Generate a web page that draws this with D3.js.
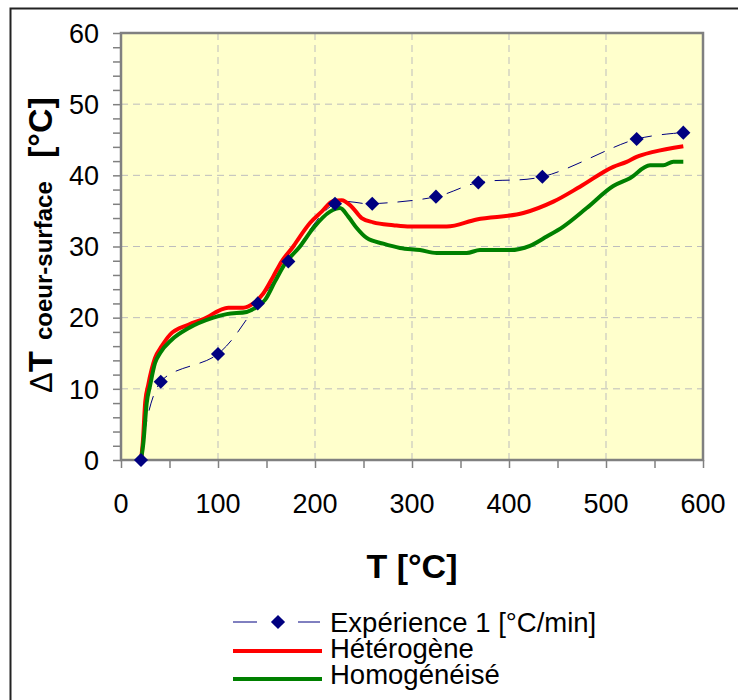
<!DOCTYPE html>
<html>
<head>
<meta charset="utf-8">
<script src="https://cdn.jsdelivr.net/npm/d3@7"></script>
<style>
  body { margin: 0; background: #fff; }
  svg { display: block; font-family: "Liberation Sans", Arial, sans-serif; }
</style>
</head>
<body>
<svg id="chart" width="738" height="700"></svg>
<script>
// experiment points (T, deltaT)
const expT = [20.6, 41, 100, 141, 172.5, 220.6, 259, 324.7, 368.4, 434.4, 531.6, 579.7];
const expDT = [0, 11, 14.9, 22.0, 27.9, 36.0, 36.0, 37.0, 39.0, 39.8, 45.1, 46.0];

// Hétérogène
const hetT = [20.6, 22.5, 25, 28, 35, 42, 50.5, 69.4, 84.9, 110.6, 126, 136.4, 146.7, 157, 165.6, 177.6, 184.5,
              194.8, 206.9, 218.9, 227.5, 237.8, 248.1, 260, 280.7, 297.9, 335.8, 366.7, 414.8, 445.7, 473.2,
              507.5, 521.3, 531.6, 548.8, 579.7];
const hetDT = [0, 2.5, 8.2, 10.5, 14.3, 16.0, 17.6, 19.0, 19.8, 21.4, 21.4, 22.0, 23.4, 25.8, 27.9, 30.0, 31.4,
               33.3, 34.9, 36.4, 36.5, 35.6, 34.0, 33.4, 33.0, 32.8, 32.8, 33.8, 34.7, 36.3, 38.4,
               41.2, 41.9, 42.6, 43.3, 44.1];

// Homogénéisé
const homT = [20.6, 23, 26.5, 30, 35, 40.2, 52.3, 69.4, 95.2, 108.9, 129.6, 139.9, 148.5, 158.8, 169.1, 184.5,
              198.3, 215.5, 225.8, 234.3, 243, 253.3, 270.4, 287.6, 308.2, 325.5, 356.4, 370.1, 401, 421.6,
              438.9, 456, 480.1, 507.5, 524.7, 545.4, 559, 569.4, 579.7];
const homDT = [0, 2.3, 8.0, 10.5, 13.6, 15.0, 16.9, 18.5, 20.0, 20.5, 20.8, 21.5, 22.5, 25.1, 27.6, 30.0,
               32.6, 34.9, 35.4, 34.2, 32.6, 31.2, 30.4, 29.8, 29.5, 29.1, 29.1, 29.5, 29.5, 30.1,
               31.4, 32.8, 35.4, 38.5, 39.6, 41.4, 41.4, 41.9, 41.9];

const xTicks = [0, 100, 200, 300, 400, 500, 600];
const yTicks = [0, 10, 20, 30, 40, 50, 60];
const legendLabels = ["Expérience 1 [°C/min]", "Hétérogène", "Homogénéisé"];

const plot = {left: 121, right: 703, top: 33, bottom: 460};

const svg = d3.select("#chart");

// outer frame (only left and top edges visible)
svg.append("path").attr("d", "M10.5,700 L10.5,8.5 L738,8.5")
    .attr("fill", "none").attr("stroke", "#222").attr("stroke-width", 2);

const x = d3.scaleLinear().domain([0, 600]).range([plot.left, plot.right]);
const y = d3.scaleLinear().domain([0, 60]).range([plot.bottom, plot.top]);

// background
svg.append("rect").attr("x", plot.left).attr("y", plot.top)
    .attr("width", plot.right - plot.left).attr("height", plot.bottom - plot.top)
    .attr("fill", "#FFFFCC");

// grid
svg.append("g").selectAll("line").data(xTicks.slice(1, -1)).join("line")
    .attr("x1", d => x(d)).attr("x2", d => x(d)).attr("y1", plot.top).attr("y2", plot.bottom)
    .attr("stroke", "#BDBDBD").attr("stroke-width", 1).attr("stroke-dasharray", "7,5");
svg.append("g").selectAll("line").data(yTicks.slice(1, -1)).join("line")
    .attr("y1", d => y(d)).attr("y2", d => y(d)).attr("x1", plot.left).attr("x2", plot.right)
    .attr("stroke", "#BDBDBD").attr("stroke-width", 1).attr("stroke-dasharray", "7,5");

// axes
const xAxis = svg.append("g").attr("transform", `translate(0,${plot.bottom})`)
    .call(d3.axisBottom(x).ticks(12).tickSize(8).tickFormat(""));
const yAxis = svg.append("g").attr("transform", `translate(${plot.left},0)`)
    .call(d3.axisLeft(y).ticks(30).tickSize(8).tickFormat(""));
[xAxis, yAxis].forEach(g => {
    g.select(".domain").remove();
    g.selectAll(".tick line").attr("stroke", "#808080").attr("stroke-width", 1.5);
});

// plot border
svg.append("rect").attr("x", plot.left).attr("y", plot.top)
    .attr("width", plot.right - plot.left).attr("height", plot.bottom - plot.top)
    .attr("fill", "none").attr("stroke", "#808080").attr("stroke-width", 2.5);

// tick labels
svg.append("g").selectAll("text").data(xTicks).join("text")
    .attr("x", d => x(d)).attr("y", 513).attr("text-anchor", "middle")
    .attr("font-size", 27).attr("fill", "#000").text(d => d);
svg.append("g").selectAll("text").data(yTicks).join("text")
    .attr("x", 99).attr("y", d => y(d)).attr("dy", "0.36em").attr("text-anchor", "end")
    .attr("font-size", 27).attr("fill", "#000").text(d => d);

// axis titles
svg.append("text").attr("x", 412).attr("y", 578).attr("text-anchor", "middle")
    .attr("font-size", 34).attr("font-weight", "bold").text("T [°C]");

const yt = svg.append("text").attr("transform", "translate(52,393) rotate(-90)")
    .attr("fill", "#000");
yt.append("tspan").attr("x", 0).attr("font-size", 31).text("\u0394");
yt.append("tspan").attr("x", 21).attr("font-size", 34).attr("font-weight", "bold").text("T");
yt.append("tspan").attr("x", 53).attr("font-size", 24).attr("font-weight", "bold").text("coeur-surface");
yt.append("tspan").attr("x", 235).attr("font-size", 34).attr("font-weight", "bold").text("[°C]");

// curves
const lineOf = (xs, ys, curve) => d3.line().x(i => x(xs[i])).y(i => y(ys[i])).curve(curve)(d3.range(xs.length));

svg.append("path").attr("d", lineOf(expT, expDT, d3.curveCatmullRom.alpha(0.5)))
    .attr("fill", "none").attr("stroke", "#000080").attr("stroke-width", 1)
    .attr("stroke-dasharray", "15,10");
svg.append("path").attr("d", lineOf(hetT, hetDT, d3.curveMonotoneX))
    .attr("fill", "none").attr("stroke", "#FF0000").attr("stroke-width", 4).attr("stroke-linejoin", "round");
svg.append("path").attr("d", lineOf(homT, homDT, d3.curveMonotoneX))
    .attr("fill", "none").attr("stroke", "#008000").attr("stroke-width", 4).attr("stroke-linejoin", "round");

const diamond = d3.symbol().type(d3.symbolSquare).size(100);
svg.append("g").selectAll("path").data(d3.range(expT.length)).join("path")
    .attr("transform", i => `translate(${x(expT[i])},${y(expDT[i])}) rotate(45)`)
    .attr("d", diamond).attr("fill", "#000080");

// legend
const leg = svg.append("g");
const legY = [622, 651, 679];
leg.append("line").attr("x1", 233).attr("x2", 257).attr("y1", legY[0]).attr("y2", legY[0])
    .attr("stroke", "#000080").attr("stroke-width", 1);
leg.append("line").attr("x1", 298).attr("x2", 320).attr("y1", legY[0]).attr("y2", legY[0])
    .attr("stroke", "#000080").attr("stroke-width", 1);
leg.append("path").attr("transform", `translate(278,${legY[0]}) rotate(45)`).attr("d", diamond).attr("fill", "#000080");
leg.append("line").attr("x1", 233).attr("x2", 322).attr("y1", legY[1]).attr("y2", legY[1])
    .attr("stroke", "#FF0000").attr("stroke-width", 4);
leg.append("line").attr("x1", 233).attr("x2", 322).attr("y1", legY[2]).attr("y2", legY[2])
    .attr("stroke", "#008000").attr("stroke-width", 4);
leg.selectAll("text").data(legendLabels).join("text")
    .attr("x", 330).attr("y", (d, i) => [632, 658, 684][i])
    .attr("font-size", 27.5).attr("fill", "#000").text(d => d);
</script>
</body>
</html>
